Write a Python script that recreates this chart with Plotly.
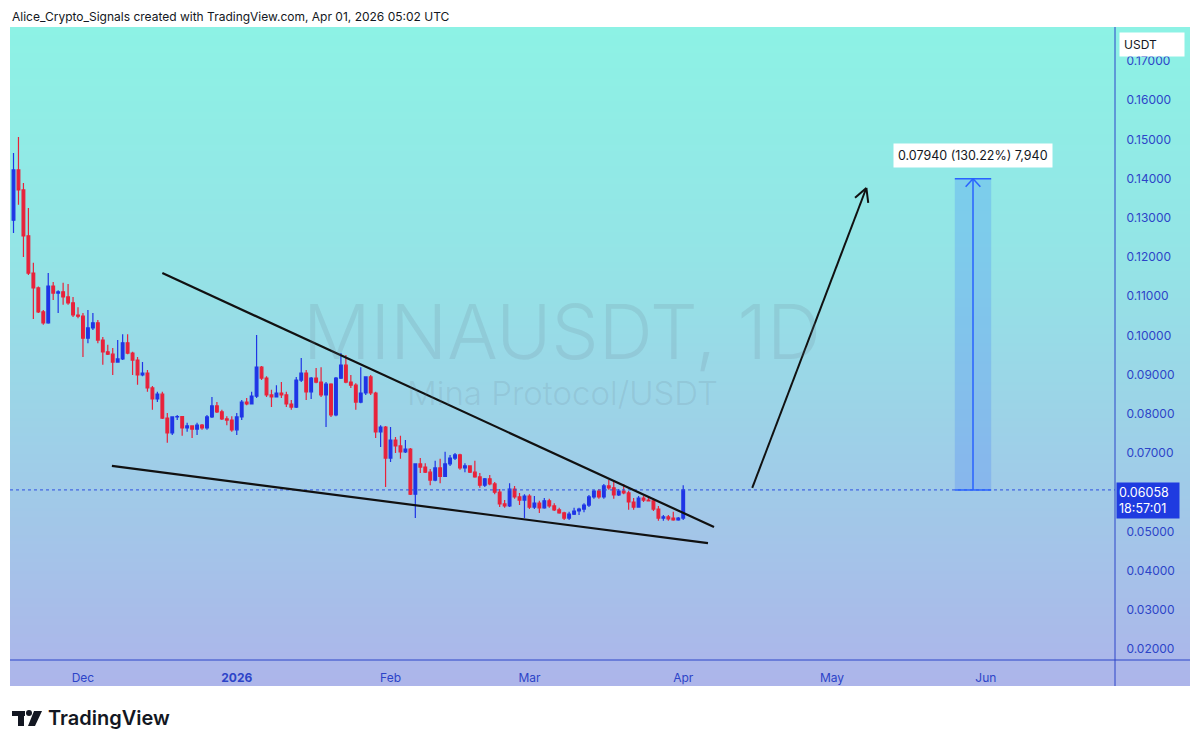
import base64, struct, zlib, math
import pandas as pd
import plotly.graph_objects as go

# ---------------- data ----------------
start_date = "2025-11-17"
n_days = 136
dates = pd.date_range(start_date, periods=n_days, freq="D")

open_ = [0.1294, 0.1422, 0.1371, 0.1254, 0.1159, 0.1121, 0.1060, 0.1032, 0.1126, 0.1108,
         0.1111, 0.1098, 0.1083, 0.1052, 0.1049, 0.0993, 0.1019, 0.1032, 0.0988, 0.0958,
         0.0952, 0.0932, 0.0940, 0.0981, 0.0955, 0.0937, 0.0899, 0.0904, 0.0866, 0.0838,
         0.0850, 0.0789, 0.0751, 0.0792, 0.0793, 0.0764, 0.0769, 0.0761, 0.0771, 0.0764,
         0.0792, 0.0820, 0.0805, 0.0787, 0.0784, 0.0759, 0.0792, 0.0830, 0.0825, 0.0845,
         0.0919, 0.0891, 0.0848, 0.0843, 0.0853, 0.0848, 0.0825, 0.0817, 0.0886, 0.0904,
         0.0856, 0.0891, 0.0881, 0.0848, 0.0876, 0.0797, 0.0891, 0.0924, 0.0881, 0.0873,
         0.0830, 0.0853, 0.0894, 0.0853, 0.0754, 0.0766, 0.0687, 0.0733, 0.0718, 0.0703,
         0.0710, 0.0595, 0.0672, 0.0664, 0.0651, 0.0631, 0.0662, 0.0640, 0.0672, 0.0687,
         0.0695, 0.0662, 0.0667, 0.0651, 0.0639, 0.0618, 0.0634, 0.0621, 0.0600, 0.0570,
         0.0565, 0.0608, 0.0588, 0.0580, 0.0590, 0.0562, 0.0572, 0.0560, 0.0578, 0.0565,
         0.0555, 0.0547, 0.0534, 0.0544, 0.0552, 0.0557, 0.0567, 0.0588, 0.0603, 0.0588,
         0.0616, 0.0611, 0.0593, 0.0603, 0.0598, 0.0575, 0.0562, 0.0585, 0.0580, 0.0578,
         0.0557, 0.0534, 0.0537, 0.0534, 0.0529, 0.0534]

high = [0.1465, 0.1506, 0.1389, 0.1325, 0.1185, 0.1125, 0.1065, 0.1159, 0.1136, 0.1115,
        0.1134, 0.1131, 0.1098, 0.1072, 0.1057, 0.1065, 0.1057, 0.1039, 0.0996, 0.0976,
        0.0968, 0.0988, 0.1003, 0.1003, 0.0958, 0.0945, 0.0932, 0.0912, 0.0871, 0.0856,
        0.0856, 0.0802, 0.0794, 0.0797, 0.0794, 0.0777, 0.0771, 0.0777, 0.0774, 0.0797,
        0.0843, 0.0830, 0.0810, 0.0794, 0.0794, 0.0802, 0.0835, 0.0840, 0.0856, 0.1001,
        0.0922, 0.0896, 0.0861, 0.0873, 0.0881, 0.0856, 0.0835, 0.0894, 0.0942, 0.0912,
        0.0894, 0.0917, 0.0919, 0.0881, 0.0878, 0.0894, 0.0955, 0.0950, 0.0899, 0.0878,
        0.0919, 0.0896, 0.0899, 0.0856, 0.0771, 0.0769, 0.0766, 0.0741, 0.0744, 0.0733,
        0.0713, 0.0674, 0.0687, 0.0674, 0.0659, 0.0680, 0.0685, 0.0703, 0.0695, 0.0700,
        0.0698, 0.0674, 0.0669, 0.0680, 0.0649, 0.0636, 0.0644, 0.0626, 0.0608, 0.0580,
        0.0623, 0.0616, 0.0598, 0.0595, 0.0595, 0.0590, 0.0578, 0.0585, 0.0583, 0.0572,
        0.0560, 0.0550, 0.0550, 0.0560, 0.0560, 0.0572, 0.0593, 0.0606, 0.0608, 0.0621,
        0.0631, 0.0628, 0.0608, 0.0621, 0.0603, 0.0585, 0.0590, 0.0590, 0.0588, 0.0585,
        0.0565, 0.0542, 0.0542, 0.0550, 0.0537, 0.0618]

low = [0.1261, 0.1333, 0.1200, 0.1154, 0.1042, 0.1057, 0.1027, 0.1030, 0.1090, 0.1057,
       0.1078, 0.1078, 0.1047, 0.1044, 0.0945, 0.0980, 0.1014, 0.0980, 0.0925, 0.0950,
       0.0899, 0.0930, 0.0937, 0.0952, 0.0899, 0.0874, 0.0896, 0.0856, 0.0810, 0.0830,
       0.0787, 0.0726, 0.0746, 0.0784, 0.0744, 0.0754, 0.0738, 0.0746, 0.0759, 0.0759,
       0.0789, 0.0802, 0.0784, 0.0771, 0.0754, 0.0746, 0.0784, 0.0822, 0.0825, 0.0840,
       0.0886, 0.0843, 0.0817, 0.0843, 0.0840, 0.0817, 0.0810, 0.0815, 0.0881, 0.0835,
       0.0838, 0.0878, 0.0843, 0.0766, 0.0792, 0.0794, 0.0889, 0.0878, 0.0866, 0.0810,
       0.0827, 0.0848, 0.0848, 0.0738, 0.0715, 0.0613, 0.0677, 0.0700, 0.0685, 0.0700,
       0.0593, 0.0534, 0.0649, 0.0649, 0.0618, 0.0628, 0.0623, 0.0639, 0.0667, 0.0682,
       0.0657, 0.0651, 0.0649, 0.0637, 0.0611, 0.0613, 0.0618, 0.0595, 0.0562, 0.0560,
       0.0562, 0.0583, 0.0567, 0.0534, 0.0557, 0.0557, 0.0547, 0.0558, 0.0560, 0.0552,
       0.0545, 0.0529, 0.0529, 0.0542, 0.0542, 0.0549, 0.0562, 0.0583, 0.0583, 0.0583,
       0.0606, 0.0583, 0.0590, 0.0595, 0.0555, 0.0555, 0.0560, 0.0575, 0.0576, 0.0552,
       0.0527, 0.0527, 0.0527, 0.0527, 0.0527, 0.0529]

close = [0.1422, 0.1371, 0.1254, 0.1159, 0.1121, 0.1060, 0.1032, 0.1126, 0.1108, 0.1111,
         0.1098, 0.1083, 0.1052, 0.1049, 0.0993, 0.1019, 0.1032, 0.0988, 0.0958, 0.0952,
         0.0932, 0.0940, 0.0981, 0.0955, 0.0937, 0.0899, 0.0904, 0.0866, 0.0838, 0.0850,
         0.0789, 0.0751, 0.0792, 0.0793, 0.0764, 0.0769, 0.0761, 0.0771, 0.0764, 0.0792,
         0.0820, 0.0805, 0.0787, 0.0784, 0.0759, 0.0792, 0.0830, 0.0825, 0.0845, 0.0919,
         0.0891, 0.0848, 0.0843, 0.0853, 0.0848, 0.0825, 0.0817, 0.0886, 0.0904, 0.0856,
         0.0891, 0.0881, 0.0848, 0.0876, 0.0797, 0.0891, 0.0924, 0.0881, 0.0873, 0.0830,
         0.0853, 0.0894, 0.0853, 0.0754, 0.0766, 0.0687, 0.0733, 0.0718, 0.0703, 0.0710,
         0.0595, 0.0672, 0.0664, 0.0651, 0.0631, 0.0662, 0.0640, 0.0672, 0.0687, 0.0695,
         0.0662, 0.0667, 0.0651, 0.0639, 0.0618, 0.0634, 0.0621, 0.0600, 0.0570, 0.0565,
         0.0608, 0.0588, 0.0580, 0.0590, 0.0562, 0.0572, 0.0560, 0.0578, 0.0565, 0.0555,
         0.0547, 0.0534, 0.0544, 0.0552, 0.0557, 0.0567, 0.0588, 0.0603, 0.0588, 0.0616,
         0.0611, 0.0593, 0.0603, 0.0598, 0.0575, 0.0562, 0.0585, 0.0580, 0.0578, 0.0557,
         0.0534, 0.0537, 0.0532, 0.0529, 0.0534, 0.06058]

last_price = 0.06058
countdown = "18:57:01"

# price-scale labels (0.06000 is hidden behind the last-price tag)
price_ticks = [0.02, 0.03, 0.04, 0.05, 0.07, 0.08, 0.09, 0.10,
               0.11, 0.12, 0.13, 0.14, 0.15, 0.16, 0.17]

# drawings (date, price)
upper_line = [("2025-12-17 00:00", 0.1159), ("2026-04-07 05:00", 0.0511)]
lower_line = [("2025-12-06 20:00", 0.0667), ("2026-04-06 00:00", 0.0470)]
arrow_line = [("2026-04-14 22:00", 0.0611), ("2026-05-07 22:00", 0.1376)]
target_box_dates = ["2026-05-25 18:00", "2026-06-02 02:00"]
target_price = 0.13998
target_label = "0.07940 (130.22%) 7,940"

month_ticks = ["2025-12-01", "2026-01-01", "2026-02-01", "2026-03-01",
               "2026-04-01", "2026-05-01", "2026-06-01"]
month_text = ["Dec", "<b>2026</b>", "Feb", "Mar", "Apr", "May", "Jun"]

header = "Alice_Crypto_Signals created with TradingView.com, Apr 01, 2026 05:02 UTC"

# ---------------- layout geometry (page pixels) ----------------
W, H = 1200, 747
OFF = 8                      # page body margin offset
PL, PR, PT, PB = 10, 1115, 27, 660
X0 = pd.Timestamp("2025-11-16 07:00")
X1 = pd.Timestamp("2026-06-27 01:00")
Y0, Y1 = 0.01719, 0.17867

def to_px(t, p):
    t = pd.Timestamp(t)
    fx = (t - X0) / (X1 - X0)
    return PL + fx * (PR - PL), PB - (p - Y0) / (Y1 - Y0) * (PB - PT)

def from_px(px, py):
    t = X0 + (X1 - X0) * ((px - PL) / (PR - PL))
    p = Y0 + (PB - py) / (PB - PT) * (Y1 - Y0)
    return t, p

def paper(px, py):
    return (px - PL) / (PR - PL), (PB - py) / (PB - PT)

BLUE = "#2c44c8"
RED_C = "#e8223a"
BLUE_C = "#1f35e6"

# ---------------- gradient background image ----------------
def gradient_png(w, h, stops):
    rows = []
    for j in range(h):
        t = j / (h - 1)
        for k in range(len(stops) - 1):
            if stops[k][0] <= t <= stops[k + 1][0]:
                a, ca = stops[k]
                b, cb = stops[k + 1]
                u = (t - a) / (b - a) if b > a else 0
                col = [int(round(ca[i] + (cb[i] - ca[i]) * u)) for i in range(3)]
                break
        rows.append(b"\x00" + bytes(col) * w)
    raw = b"".join(rows)

    def chunk(tag, data):
        return (struct.pack(">I", len(data)) + tag + data +
                struct.pack(">I", zlib.crc32(tag + data) & 0xFFFFFFFF))
    png = (b"\x89PNG\r\n\x1a\n" +
           chunk(b"IHDR", struct.pack(">IIBBBBB", w, h, 8, 2, 0, 0, 0)) +
           chunk(b"IDAT", zlib.compress(raw, 9)) + chunk(b"IEND", b""))
    return "data:image/png;base64," + base64.b64encode(png).decode()

grad = gradient_png(4, 220, [(0.0, (141, 242, 229)), (0.35, (148, 228, 230)),
                             (0.7, (160, 203, 232)), (1.0, (173, 181, 234))])

fig = go.Figure()
fig.add_trace(go.Candlestick(
    x=dates, open=open_, high=high, low=low, close=close,
    increasing=dict(line=dict(color=BLUE_C, width=1.2), fillcolor=BLUE_C),
    decreasing=dict(line=dict(color=RED_C, width=1.2), fillcolor=RED_C),
    whiskerwidth=0, showlegend=False, hoverinfo="skip",
))

shapes = []
gx0, gy_bot = paper(1190, 686)
shapes.append(dict(type="line", xref="paper", yref="paper", x0=1, x1=1, y0=gy_bot, y1=1,
                   line=dict(color=BLUE, width=1)))
shapes.append(dict(type="line", xref="paper", yref="paper", x0=0, x1=gx0, y0=0, y1=0,
                   line=dict(color=BLUE, width=1)))
shapes.append(dict(type="line", xref="paper", yref="y", x0=0, x1=1, y0=last_price, y1=last_price,
                   line=dict(color="#2f4fe0", width=1, dash="dot")))
for ln in (upper_line, lower_line):
    shapes.append(dict(type="line", xref="x", yref="y", x0=ln[0][0], y0=ln[0][1],
                       x1=ln[1][0], y1=ln[1][1], line=dict(color="#111111", width=2.2)))
shapes.append(dict(type="line", xref="x", yref="y", x0=arrow_line[0][0], y0=arrow_line[0][1],
                   x1=arrow_line[1][0], y1=arrow_line[1][1], line=dict(color="#111111", width=2)))

def arrow_head(tail, head, length, ang_deg, color, width):
    tx, ty = to_px(*tail)
    hx, hy = to_px(*head)
    dx, dy = tx - hx, ty - hy
    d = math.hypot(dx, dy)
    ux, uy = dx / d, dy / d
    out = []
    for s in (-1, 1):
        a = math.radians(ang_deg) * s
        rx = ux * math.cos(a) - uy * math.sin(a)
        ry = ux * math.sin(a) + uy * math.cos(a)
        ex, ey = from_px(hx + rx * length, hy + ry * length)
        out.append(dict(type="line", xref="x", yref="y", x0=head[0], y0=head[1],
                        x1=ex, y1=ey, line=dict(color=color, width=width)))
    return out

shapes += arrow_head(arrow_line[0], arrow_line[1], 15, 28, "#111111", 2)

bx0, bx1 = target_box_dates
shapes.append(dict(type="rect", xref="x", yref="y", x0=bx0, x1=bx1, y0=last_price, y1=target_price,
                   fillcolor="rgba(41,98,255,0.20)", line=dict(width=0), layer="above"))
shapes.append(dict(type="line", xref="x", yref="y", x0=bx0, x1=bx1, y0=target_price, y1=target_price,
                   line=dict(color="#2962ff", width=1.5)))
shapes.append(dict(type="line", xref="x", yref="y", x0=bx0, x1=bx1, y0=last_price, y1=last_price,
                   line=dict(color="#2962ff", width=1.5)))
mid = pd.Timestamp(bx0) + (pd.Timestamp(bx1) - pd.Timestamp(bx0)) / 2
shapes.append(dict(type="line", xref="x", yref="y", x0=mid, x1=mid, y0=last_price, y1=target_price,
                   line=dict(color="#2962ff", width=1.5)))
shapes += arrow_head((mid, last_price), (mid, target_price), 11, 42, "#2962ff", 1.5)

# TradingView logo glyph
def prect(x0, y0, x1, y1):
    a = paper(x0, y0); b = paper(x1, y1)
    return dict(type="rect", xref="paper", yref="paper", x0=a[0], y0=a[1], x1=b[0], y1=b[1],
                fillcolor="#131722", line=dict(width=0))
shapes.append(prect(12, 711, 25, 716))
shapes.append(prect(18, 711, 24, 726))
c0 = paper(26, 710); c1 = paper(32, 716)
shapes.append(dict(type="circle", xref="paper", yref="paper", x0=c0[0], y0=c0[1], x1=c1[0], y1=c1[1],
                   fillcolor="#131722", line=dict(width=0)))
pts = [paper(34, 711), paper(42, 711), paper(35, 726), paper(28, 726)]
path = "M " + " L ".join(f"{p[0]},{p[1]}" for p in pts) + " Z"
shapes.append(dict(type="path", xref="paper", yref="paper", path=path,
                   fillcolor="#131722", line=dict(width=0)))

annotations = []
hx, hy = paper(10, 17)
annotations.append(dict(xref="paper", yref="paper", x=hx, y=hy, xanchor="left", yanchor="middle",
                        text=header, showarrow=False, font=dict(size=12, color="#131722")))
lx, ly = paper(46, 718)
annotations.append(dict(xref="paper", yref="paper", x=lx, y=ly, xanchor="left", yanchor="middle",
                        text="TradingView", showarrow=False,
                        font=dict(size=20, color="#131722", weight=600)))
wx, wy = paper(562, 331)
annotations.append(dict(xref="paper", yref="paper", x=wx, y=wy, xanchor="center", yanchor="middle",
                        text="MINAUSDT, 1D", showarrow=False,
                        font=dict(size=75, color="rgba(105,125,145,0.17)", weight=300)))
wx2, wy2 = paper(562, 393)
annotations.append(dict(xref="paper", yref="paper", x=wx2, y=wy2, xanchor="center", yanchor="middle",
                        text="Mina Protocol/USDT", showarrow=False,
                        font=dict(size=33, color="rgba(105,125,145,0.17)", weight=300)))
annotations.append(dict(xref="x", yref="y", x=mid, y=target_price, xanchor="center", yanchor="bottom",
                        yshift=11, text=target_label, showarrow=False, bgcolor="white",
                        borderpad=4, font=dict(size=12.5, color="#131722")))
ux, uy = paper(1119, 44)
annotations.append(dict(xref="paper", yref="paper", x=ux, y=uy, xanchor="left", yanchor="middle",
                        text="USDT", showarrow=False, bgcolor="white", width=56, align="left",
                        borderpad=4, font=dict(size=12, color="#131722")))
px_, _ = paper(1116, 0)
annotations.append(dict(xref="paper", yref="y", x=px_, y=last_price, xanchor="left", yanchor="top",
                        yshift=8, text=f"{last_price:.5f}<br>{countdown}", showarrow=False,
                        bgcolor="#1f3be0", width=58, align="left", borderpad=2,
                        font=dict(size=12.5, color="white")))

fig.update_layout(
    width=W, height=H,
    margin=dict(l=PL - OFF, r=W - (PR - OFF), t=PT - OFF, b=H - (PB - OFF)),
    paper_bgcolor="white", plot_bgcolor="rgba(0,0,0,0)",
    font=dict(family="Inter, Roboto, sans-serif", color="#131722"),
    shapes=shapes, annotations=annotations, boxgap=0.22,
    images=[dict(source=grad, xref="paper", yref="paper", x=0, y=1,
                 sizex=gx0, sizey=1 - gy_bot, xanchor="left", yanchor="top",
                 sizing="stretch", layer="below")],
    xaxis=dict(range=[X0, X1], rangeslider=dict(visible=False), showgrid=False, zeroline=False,
               tickvals=month_ticks, ticktext=month_text, ticks="outside", ticklen=0,
               ticklabelstandoff=7, tickfont=dict(size=12, color=BLUE), showline=False),
    yaxis=dict(range=[Y0, Y1], side="right", showgrid=False, zeroline=False,
               tickvals=price_ticks, ticktext=[f"{v:.5f}" for v in price_ticks],
               ticks="outside", ticklen=0,
               ticklabelstandoff=8, tickfont=dict(size=12, color=BLUE), showline=False),
    hovermode=False,
)

fig.write_html("out.html")
